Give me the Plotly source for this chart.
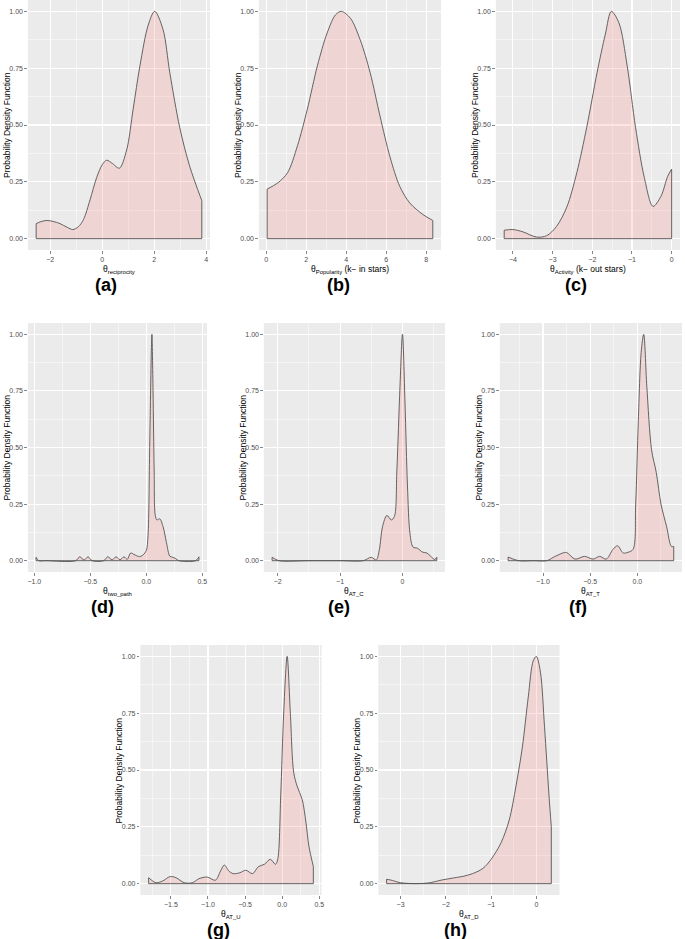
import plotly.graph_objects as go

W, H = 685, 939

# ---------------- data ----------------
a_x = [-2.54, -2.35, -2.13, -1.9, -1.62, -1.35, -1.13, -0.92, -0.72, -0.47, -0.21, 0.0, 0.17, 0.4, 0.66, 0.94,
       1.19, 1.45, 1.77, 2.02, 2.34, 2.6, 2.98, 3.36, 3.83]
a_y = [0.066, 0.075, 0.08, 0.076, 0.066, 0.05, 0.04, 0.052, 0.084, 0.17, 0.27, 0.325, 0.345, 0.33, 0.31, 0.39,
       0.57, 0.76, 0.94, 1.0, 0.92, 0.73, 0.49, 0.32, 0.167]

b_x = [0.05, 0.58, 1.07, 1.57, 2.06, 2.56, 3.05, 3.47, 3.76, 4.21, 4.7, 5.2, 5.69, 6.19, 6.68, 7.18, 7.84, 8.33]
b_y = [0.218, 0.245, 0.29, 0.41, 0.57, 0.76, 0.905, 0.985, 1.0, 0.97, 0.875, 0.73, 0.54, 0.36, 0.23, 0.157,
       0.106, 0.08]

c_x = [-4.22, -4.0, -3.75, -3.41, -3.15, -2.9, -2.64, -2.39, -2.14, -1.88, -1.67, -1.52, -1.33, -1.12, -0.91,
       -0.69, -0.47, -0.27, -0.1, 0.0]
c_y = [0.037, 0.04, 0.03, 0.007, 0.013, 0.054, 0.14, 0.29, 0.49, 0.73, 0.9, 1.0, 0.95, 0.76, 0.49, 0.27, 0.142,
       0.186, 0.274, 0.306]

d_x = [-0.985, -0.96, -0.9, -0.63, -0.595, -0.555, -0.52, -0.485, -0.38, -0.345, -0.305, -0.27, -0.235, -0.2,
       -0.17, -0.14, -0.1, -0.06, -0.03, 0.0, 0.015, 0.03, 0.045, 0.05, 0.06, 0.07, 0.08, 0.095, 0.12, 0.15,
       0.18, 0.21, 0.235, 0.26, 0.29, 0.44, 0.47]
d_y = [0.015, 0.0, 0.0, 0.0, 0.017, 0.003, 0.017, 0.0, 0.0, 0.017, 0.004, 0.017, 0.004, 0.017,
       0.006, 0.034, 0.025, 0.018, 0.025, 0.045, 0.11, 0.5, 0.93, 1.0, 0.75, 0.4, 0.2, 0.18, 0.185, 0.15,
       0.08, 0.02, 0.015, 0.01, 0.0, 0.0, 0.017]

e_x = [-2.09, -1.98, -1.5, -1.0, -0.63, -0.5, -0.42, -0.37, -0.32, -0.25, -0.18, -0.13, -0.09, -0.04, 0.0,
       0.04, 0.08, 0.12, 0.17, 0.24, 0.32, 0.39, 0.45, 0.52, 0.55]
e_y = [0.015, 0.0, 0.0, 0.0, 0.0, 0.015, 0.003, 0.05, 0.15, 0.2, 0.18, 0.195, 0.4, 0.77, 1.0,
       0.7, 0.33, 0.12, 0.06, 0.055, 0.038, 0.034, 0.02, 0.005, 0.015]

f_x = [-1.37, -1.26, -1.1, -0.96, -0.89, -0.79, -0.75, -0.66, -0.56, -0.47, -0.4, -0.33, -0.26, -0.21, -0.15,
       -0.1, -0.046, -0.018, 0.01, 0.04, 0.067, 0.1, 0.15, 0.2, 0.25, 0.31, 0.36, 0.385]
f_y = [0.016, 0.0, 0.0, 0.0, 0.015, 0.034, 0.036, 0.007, 0.019, 0.007, 0.019, 0.007, 0.049, 0.066, 0.034,
       0.037, 0.05, 0.25, 0.62, 0.92, 1.0, 0.77, 0.49, 0.39, 0.25, 0.15, 0.063, 0.063]

g_x = [-1.8, -1.7, -1.61, -1.51, -1.43, -1.32, -1.21, -1.12, -1.01, -0.9, -0.83, -0.78, -0.72, -0.66, -0.57,
       -0.49, -0.4, -0.32, -0.24, -0.16, -0.09, -0.06, -0.02, 0.02, 0.067, 0.11, 0.155, 0.2, 0.27, 0.32,
       0.36, 0.42]
g_y = [0.026, 0.004, 0.012, 0.031, 0.026, 0.004, 0.004, 0.022, 0.029, 0.015, 0.056, 0.082, 0.056, 0.044, 0.048,
       0.059, 0.044, 0.075, 0.085, 0.107, 0.085, 0.107, 0.385, 0.75, 1.0, 0.75, 0.49, 0.43, 0.37, 0.27,
       0.165, 0.075]

h_x = [-3.31, -3.22, -3.0, -2.67, -2.38, -2.09, -1.83, -1.58, -1.36, -1.18, -1.0, -0.78, -0.6, -0.45, -0.31,
       -0.18, -0.07, 0.0, 0.09, 0.18, 0.28, 0.33]
h_y = [0.019, 0.016, 0.004, 0.0, 0.003, 0.016, 0.025, 0.034, 0.048, 0.067, 0.107, 0.18, 0.28, 0.43, 0.6,
       0.82, 0.98, 1.0, 0.93, 0.69, 0.385, 0.25]

x_titles = ["θ<sub>reciprocity</sub>", "θ<sub>Popularity</sub> (k− in stars)", "θ<sub>Activity</sub> (k− out stars)",
            "θ<sub>two_path</sub>", "θ<sub>AT_C</sub>", "θ<sub>AT_T</sub>", "θ<sub>AT_U</sub>", "θ<sub>AT_D</sub>"]
panel_labels = ["(a)", "(b)", "(c)", "(d)", "(e)", "(f)", "(g)", "(h)"]
x_dticks = [2, 2, 1, 0.5, 1, 0.5, 0.5, 1]
x_formats = ["d", "d", "d", ".1f", "d", ".1f", ".1f", "d"]
y_ticks = [0, 0.25, 0.5, 0.75, 1.0]
y_ticktext = ["0.00", "0.25", "0.50", "0.75", "1.00"]
y_title = "Probability Density Function"

series = [(a_x, a_y), (b_x, b_y), (c_x, c_y), (d_x, d_y), (e_x, e_y), (f_x, f_y), (g_x, g_y), (h_x, h_y)]

# ---------------- layout geometry (pixels) ----------------
boxes = [
    (28, 211, 0, 250), (260, 443, 0, 250), (498, 683, 0, 250),
    (28, 208, 323, 572), (265, 447, 323, 572), (502, 685, 323, 572),
    (141, 323, 645, 895), (380, 562, 645, 895),
]
label_x = [106, 340, 579, 103, 340, 581, 219, 458]

FONT = "Liberation Sans, Arial, sans-serif"
FILL = "rgba(248,118,109,0.2)"
LINE = "#555555"

fig = go.Figure()
layout = dict(
    width=W, height=H, margin=dict(l=0, r=0, t=0, b=0),
    paper_bgcolor="white", plot_bgcolor="#EBEBEB", showlegend=False,
    font=dict(family=FONT, color="#000000"),
)
annotations = []


def px(xp):
    return xp / W


def py(yp):
    return 1 - yp / H


for i, ((xs, ys), (l, r, t, b)) in enumerate(zip(series, boxes)):
    k = "" if i == 0 else str(i + 1)
    xa, ya = "x" + k, "y" + k
    fig.add_trace(go.Scatter(x=xs, y=ys, mode="lines",
                             line=dict(color=LINE, width=0.9, shape="spline", smoothing=0.9),
                             fill="tozeroy", fillcolor=FILL, xaxis=xa, yaxis=ya, hoverinfo="skip"))
    fig.add_trace(go.Scatter(x=[xs[0], xs[0], xs[-1], xs[-1]], y=[ys[0], 0, 0, ys[-1]], mode="lines",
                             line=dict(color=LINE, width=0.9), xaxis=xa, yaxis=ya, hoverinfo="skip"))
    span = max(xs) - min(xs)
    xr = [min(xs) - 0.05 * span, max(xs) + 0.05 * span]
    dt = x_dticks[i]
    layout["xaxis" + k] = dict(
        domain=[px(l), px(r)], anchor=ya, range=xr, dtick=dt, tick0=0, tickformat=x_formats[i],
        showgrid=True, gridcolor="white", gridwidth=1.1, zeroline=False, showline=False,
        ticks="outside", ticklen=2.5, tickwidth=0.6, tickcolor="#333333",
        tickfont=dict(size=7, color="#4D4D4D", family=FONT),
        minor=dict(dtick=dt / 2, tick0=0, showgrid=True, gridcolor="white", gridwidth=0.5, ticks=""),
        fixedrange=True,
    )
    layout["yaxis" + k] = dict(
        domain=[py(b), py(t)], anchor=xa, range=[-0.05, 1.05], tickvals=y_ticks, ticktext=y_ticktext,
        showgrid=True, gridcolor="white", gridwidth=1.1, zeroline=False, showline=False,
        ticks="outside", ticklen=2.5, tickwidth=0.6, tickcolor="#333333",
        tickfont=dict(size=7, color="#4D4D4D", family=FONT),
        minor=dict(tickvals=[0.125, 0.375, 0.625, 0.875], showgrid=True, gridcolor="white",
                   gridwidth=0.5, ticks=""),
        fixedrange=True,
    )
    # x-axis title
    annotations.append(dict(text=x_titles[i], x=px((l + r) / 2), y=py(b + 12), xref="paper", yref="paper",
                            showarrow=False, xanchor="center", yanchor="top",
                            font=dict(size=8.5, color="#000000", family=FONT)))
    # y-axis title
    annotations.append(dict(text=y_title, x=px(l - 21), y=py((t + b) / 2), xref="paper", yref="paper",
                            showarrow=False, xanchor="center", yanchor="middle", textangle=-90,
                            font=dict(size=8.5, color="#000000", family=FONT)))
    # panel label
    annotations.append(dict(text="<b>" + panel_labels[i] + "</b>", x=px(label_x[i]), y=py(b + 35),
                            xref="paper", yref="paper", showarrow=False, xanchor="center", yanchor="middle",
                            font=dict(size=18, color="#000000", family=FONT)))

layout["annotations"] = annotations
fig.update_layout(**layout)
fig.write_html("out.html", config={"displayModeBar": False, "staticPlot": True},
               post_script="document.body.style.margin='0';document.body.style.overflow='hidden';")
